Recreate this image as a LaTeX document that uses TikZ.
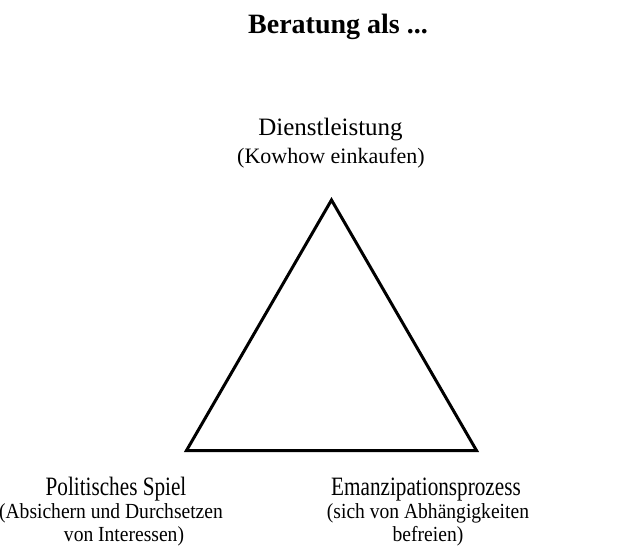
\documentclass[tikz,border=0pt]{standalone}
\usepackage{fontspec}
\setmainfont{Liberation Serif}
\newfontfamily\narrowserifA[FakeStretch=0.80]{Liberation Serif}
\newfontfamily\narrowserifB[FakeStretch=0.91]{Liberation Serif}
\begin{document}
\begin{tikzpicture}[x=1pt,y=1pt,
  lbl/.style={anchor=base,inner sep=0pt,font=\fontsize{25}{28}\selectfont},
  sublbl/.style={anchor=base,inner sep=0pt,font=\fontsize{22}{24}\selectfont},
  blbl/.style={anchor=base,inner sep=0pt,font=\narrowserifA\fontsize{26.5}{28}\selectfont},
  bsublbl/.style={anchor=base,inner sep=0pt,font=\narrowserifB\fontsize{21.5}{24}\selectfont},
  ttl/.style={anchor=base,inner sep=0pt,font=\fontsize{28}{32}\selectfont\bfseries},
  tri/.style={draw=black,line width=3pt,line join=miter}]
\useasboundingbox (0,0) rectangle (622,-554);
\node[ttl] (title) at (338,-34) {Beratung als ...};
\node[lbl] (top) at (330.5,-135) {Dienstleistung};
\node[sublbl] (topsub) at (331,-163) {(Kowhow einkaufen)};
\node[blbl] (left) at (116,-495) {Politisches Spiel};
\node[bsublbl] (leftsub1) at (111,-518) {(Absichern und Durchsetzen};
\node[bsublbl] (leftsub2) at (124,-541) {von Interessen)};
\node[blbl] (right) at (426,-495) {Emanzipationsprozess};
\node[bsublbl] (rightsub1) at (428,-518) {(sich von Abhängigkeiten};
\node[bsublbl] (rightsub2) at (428,-541) {befreien)};
\coordinate (A) at (331.5,-200);
\coordinate (B) at (186.5,-450.5);
\coordinate (C) at (476.5,-450.5);
\draw[tri] (A) -- (B) -- (C) -- cycle;
\end{tikzpicture}
\end{document}
